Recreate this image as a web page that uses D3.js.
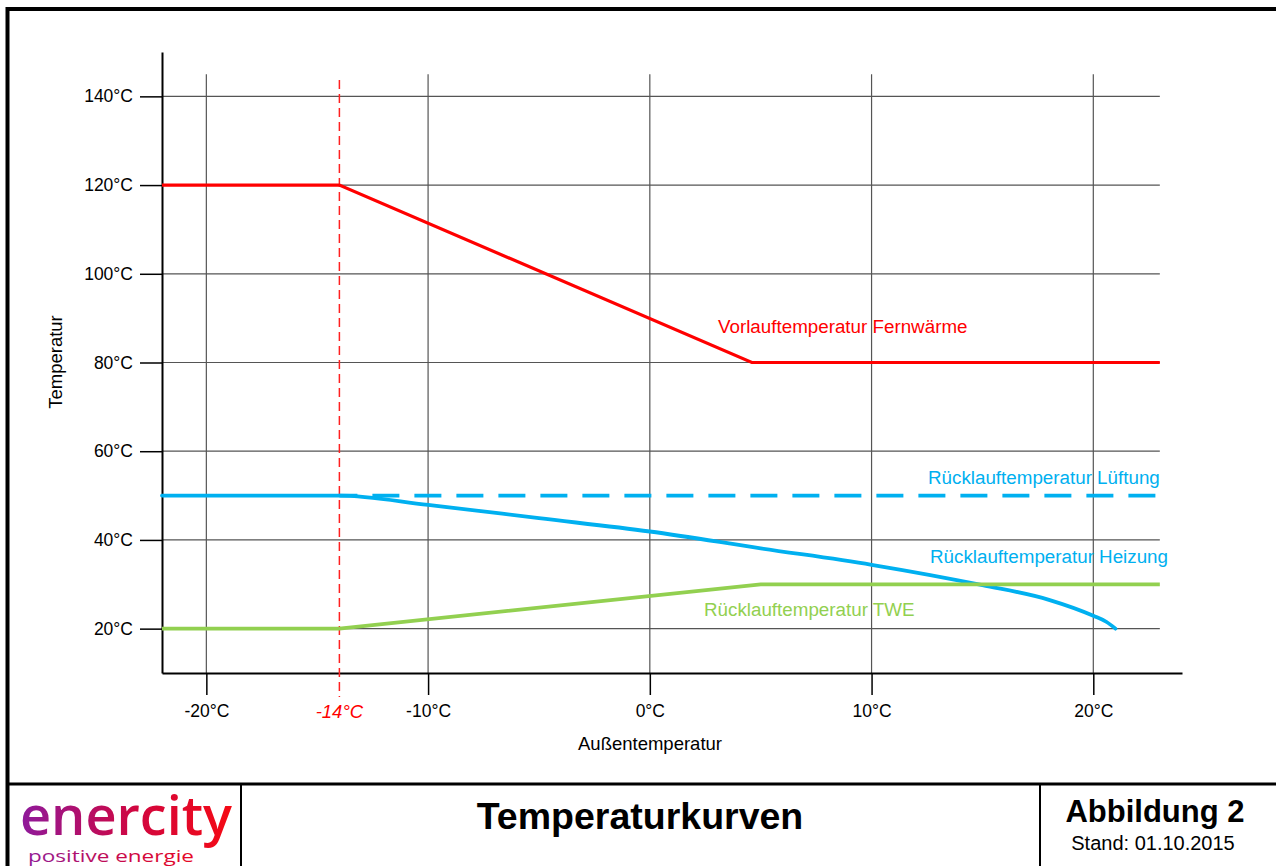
<!DOCTYPE html>
<html>
<head>
<meta charset="utf-8">
<script src="https://cdn.jsdelivr.net/npm/d3@7"></script>
<style>
  body { margin: 0; background: white; }
  svg { display: block; font-family: "Liberation Sans", Arial, sans-serif; }
</style>
</head>
<body>
<svg id="chart" width="1276" height="866"></svg>
<script>
// Daten
const xTicks = [-20, -10, 0, 10, 20];
const yTicks = [20, 40, 60, 80, 100, 120, 140];
const designTemp = -14;

const vorlauf = [[-22, 120], [-14, 120], [4.6, 80], [23, 80]];
const lueftung = [[-14, 50], [23, 50]];
const heizung = [[-22, 50], [-14, 50], [-10, 47.9], [-5, 44.9], [0, 41.9], [5, 38.1],
                 [10, 34.4], [15, 29.8], [18, 26.5], [20, 22.9], [20.6, 21.5], [21, 20]];
const twe = [[-22, 20], [-14, 20], [5, 30], [23, 30]];

const svg = d3.select("#chart");

const x = d3.scaleLinear().domain([-22, 24]).range([162, 1182]);
const y = d3.scaleLinear().domain([10, 150]).range([673, 52]);

// Rahmen
svg.append("rect")
    .attr("x", 7.5).attr("y", 9)
    .attr("width", 1290).attr("height", 880)
    .attr("fill", "none").attr("stroke", "black").attr("stroke-width", 4);
svg.append("line")
    .attr("x1", 7).attr("x2", 1276).attr("y1", 784).attr("y2", 784)
    .attr("stroke", "black").attr("stroke-width", 3);
[241, 1040].forEach(px => {
    svg.append("line")
        .attr("x1", px).attr("x2", px).attr("y1", 784).attr("y2", 866)
        .attr("stroke", "black").attr("stroke-width", 2);
});

// Gitternetz
const grid = svg.append("g");
grid.selectAll(".hgrid").data(yTicks).join("line")
    .attr("x1", x(-22)).attr("x2", x(23))
    .attr("y1", d => y(d)).attr("y2", d => y(d))
    .attr("stroke", "#555").attr("stroke-width", 1.2);
grid.selectAll(".vgrid").data(xTicks).join("line")
    .attr("x1", d => x(d)).attr("x2", d => x(d))
    .attr("y1", y(145)).attr("y2", y(10))
    .attr("stroke", "#555").attr("stroke-width", 1.2);

// Achsen
const xAxis = d3.axisBottom(x).tickValues(xTicks).tickSize(22).tickSizeOuter(0)
    .tickFormat(d => d + "°C");
const gx = svg.append("g").attr("transform", `translate(0,${y(10)})`).call(xAxis);
gx.attr("font-size", null).attr("font-family", null);
gx.select(".domain").attr("stroke-width", 2);
gx.selectAll(".tick line").attr("stroke-width", 1.5);
gx.selectAll(".tick text")
    .style("font-size", "17.5px")
    .attr("fill", "black").attr("y", 32).attr("dy", "0.71em");

const yAxis = d3.axisLeft(y).tickValues(yTicks).tickSize(22).tickSizeOuter(0)
    .tickFormat(d => d + "°C");
const gy = svg.append("g").attr("transform", `translate(${x(-22)},0)`).call(yAxis);
gy.attr("font-size", null).attr("font-family", null);
gy.select(".domain").attr("stroke-width", 2);
gy.selectAll(".tick line").attr("stroke-width", 1.5);
gy.selectAll(".tick text")
    .style("font-size", "17.5px")
    .attr("fill", "black").attr("x", -29);

// Auslegungstemperatur -14°C
svg.append("line")
    .attr("x1", x(designTemp)).attr("x2", x(designTemp))
    .attr("y1", 80).attr("y2", y(10) + 24)
    .attr("stroke", "#ff2020").attr("stroke-width", 1.5)
    .attr("stroke-dasharray", "9,5");
svg.append("text")
    .attr("x", x(designTemp)).attr("y", 718)
    .attr("text-anchor", "middle").style("font-size", "18.5px")
    .attr("font-style", "italic").attr("fill", "#ff0000")
    .text("-14°C");

// Achsentitel
svg.append("text")
    .attr("x", 650).attr("y", 750)
    .attr("text-anchor", "middle").style("font-size", "18.5px")
    .text("Außentemperatur");
svg.append("text")
    .attr("transform", "translate(62,362) rotate(-90)")
    .attr("text-anchor", "middle").style("font-size", "18.5px")
    .text("Temperatur");

// Kurven
const line = d3.line().x(d => x(d[0])).y(d => y(d[1]));
const curveLine = d3.line().x(d => x(d[0])).y(d => y(d[1])).curve(d3.curveMonotoneX);

svg.append("path").datum(lueftung).attr("d", line)
    .attr("fill", "none").attr("stroke", "#00b0f0").attr("stroke-width", 3.8)
    .attr("stroke-dasharray", "27,15").attr("stroke-dashoffset", 9);
svg.append("path").datum(heizung).attr("d", curveLine)
    .attr("fill", "none").attr("stroke", "#00b0f0").attr("stroke-width", 3.8)
    .attr("stroke-linecap", "round");
svg.append("path").datum(twe).attr("d", line)
    .attr("fill", "none").attr("stroke", "#92d050").attr("stroke-width", 3.8);
svg.append("path").datum(vorlauf).attr("d", line)
    .attr("fill", "none").attr("stroke", "#ff0000").attr("stroke-width", 3.2);

// Beschriftungen
const labels = [
    { text: "Vorlauftemperatur Fernwärme", x: 718, y: 333, color: "#ff0000" },
    { text: "Rücklauftemperatur Lüftung", x: 928, y: 484, color: "#00b0f0" },
    { text: "Rücklauftemperatur Heizung", x: 930, y: 563, color: "#00b0f0" },
    { text: "Rücklauftemperatur TWE", x: 704, y: 616, color: "#92d050" }
];
svg.selectAll(".lbl").data(labels).join("text")
    .attr("x", d => d.x).attr("y", d => d.y)
    .style("font-size", "18.8px").attr("fill", d => d.color)
    .text(d => d.text);

// Fußzeile
const defs = svg.append("defs");
const grad = defs.append("linearGradient").attr("id", "logoGrad")
    .attr("gradientUnits", "userSpaceOnUse")
    .attr("x1", 20).attr("x2", 232).attr("y1", 0).attr("y2", 0);
grad.append("stop").attr("offset", "0%").attr("stop-color", "#8e1a9c");
grad.append("stop").attr("offset", "55%").attr("stop-color", "#d1063f");
grad.append("stop").attr("offset", "100%").attr("stop-color", "#f50a14");

svg.append("text")
    .attr("x", 126).attr("y", 835)
    .attr("text-anchor", "middle")
    .attr("font-family", "'Open Sans', Lato, sans-serif")
    .attr("font-weight", 600)
    .style("font-size", "54px").attr("fill", "url(#logoGrad)")
    .attr("textLength", 212).attr("lengthAdjust", "spacingAndGlyphs")
    .text("enercity");
svg.append("text")
    .attr("x", 111).attr("y", 862)
    .attr("text-anchor", "middle")
    .attr("font-family", "'Open Sans', Lato, sans-serif")
    .style("font-size", "17px").attr("fill", "url(#logoGrad)")
    .attr("textLength", 166).attr("lengthAdjust", "spacingAndGlyphs")
    .text("positive energie");

svg.append("text")
    .attr("x", 640).attr("y", 829)
    .attr("text-anchor", "middle").attr("font-weight", "bold")
    .style("font-size", "37.5px")
    .text("Temperaturkurven");
svg.append("text")
    .attr("x", 1155).attr("y", 822)
    .attr("text-anchor", "middle").attr("font-weight", "bold")
    .style("font-size", "31px")
    .text("Abbildung 2");
svg.append("text")
    .attr("x", 1153).attr("y", 850)
    .attr("text-anchor", "middle")
    .style("font-size", "20px")
    .text("Stand: 01.10.2015");
</script>
</body>
</html>
